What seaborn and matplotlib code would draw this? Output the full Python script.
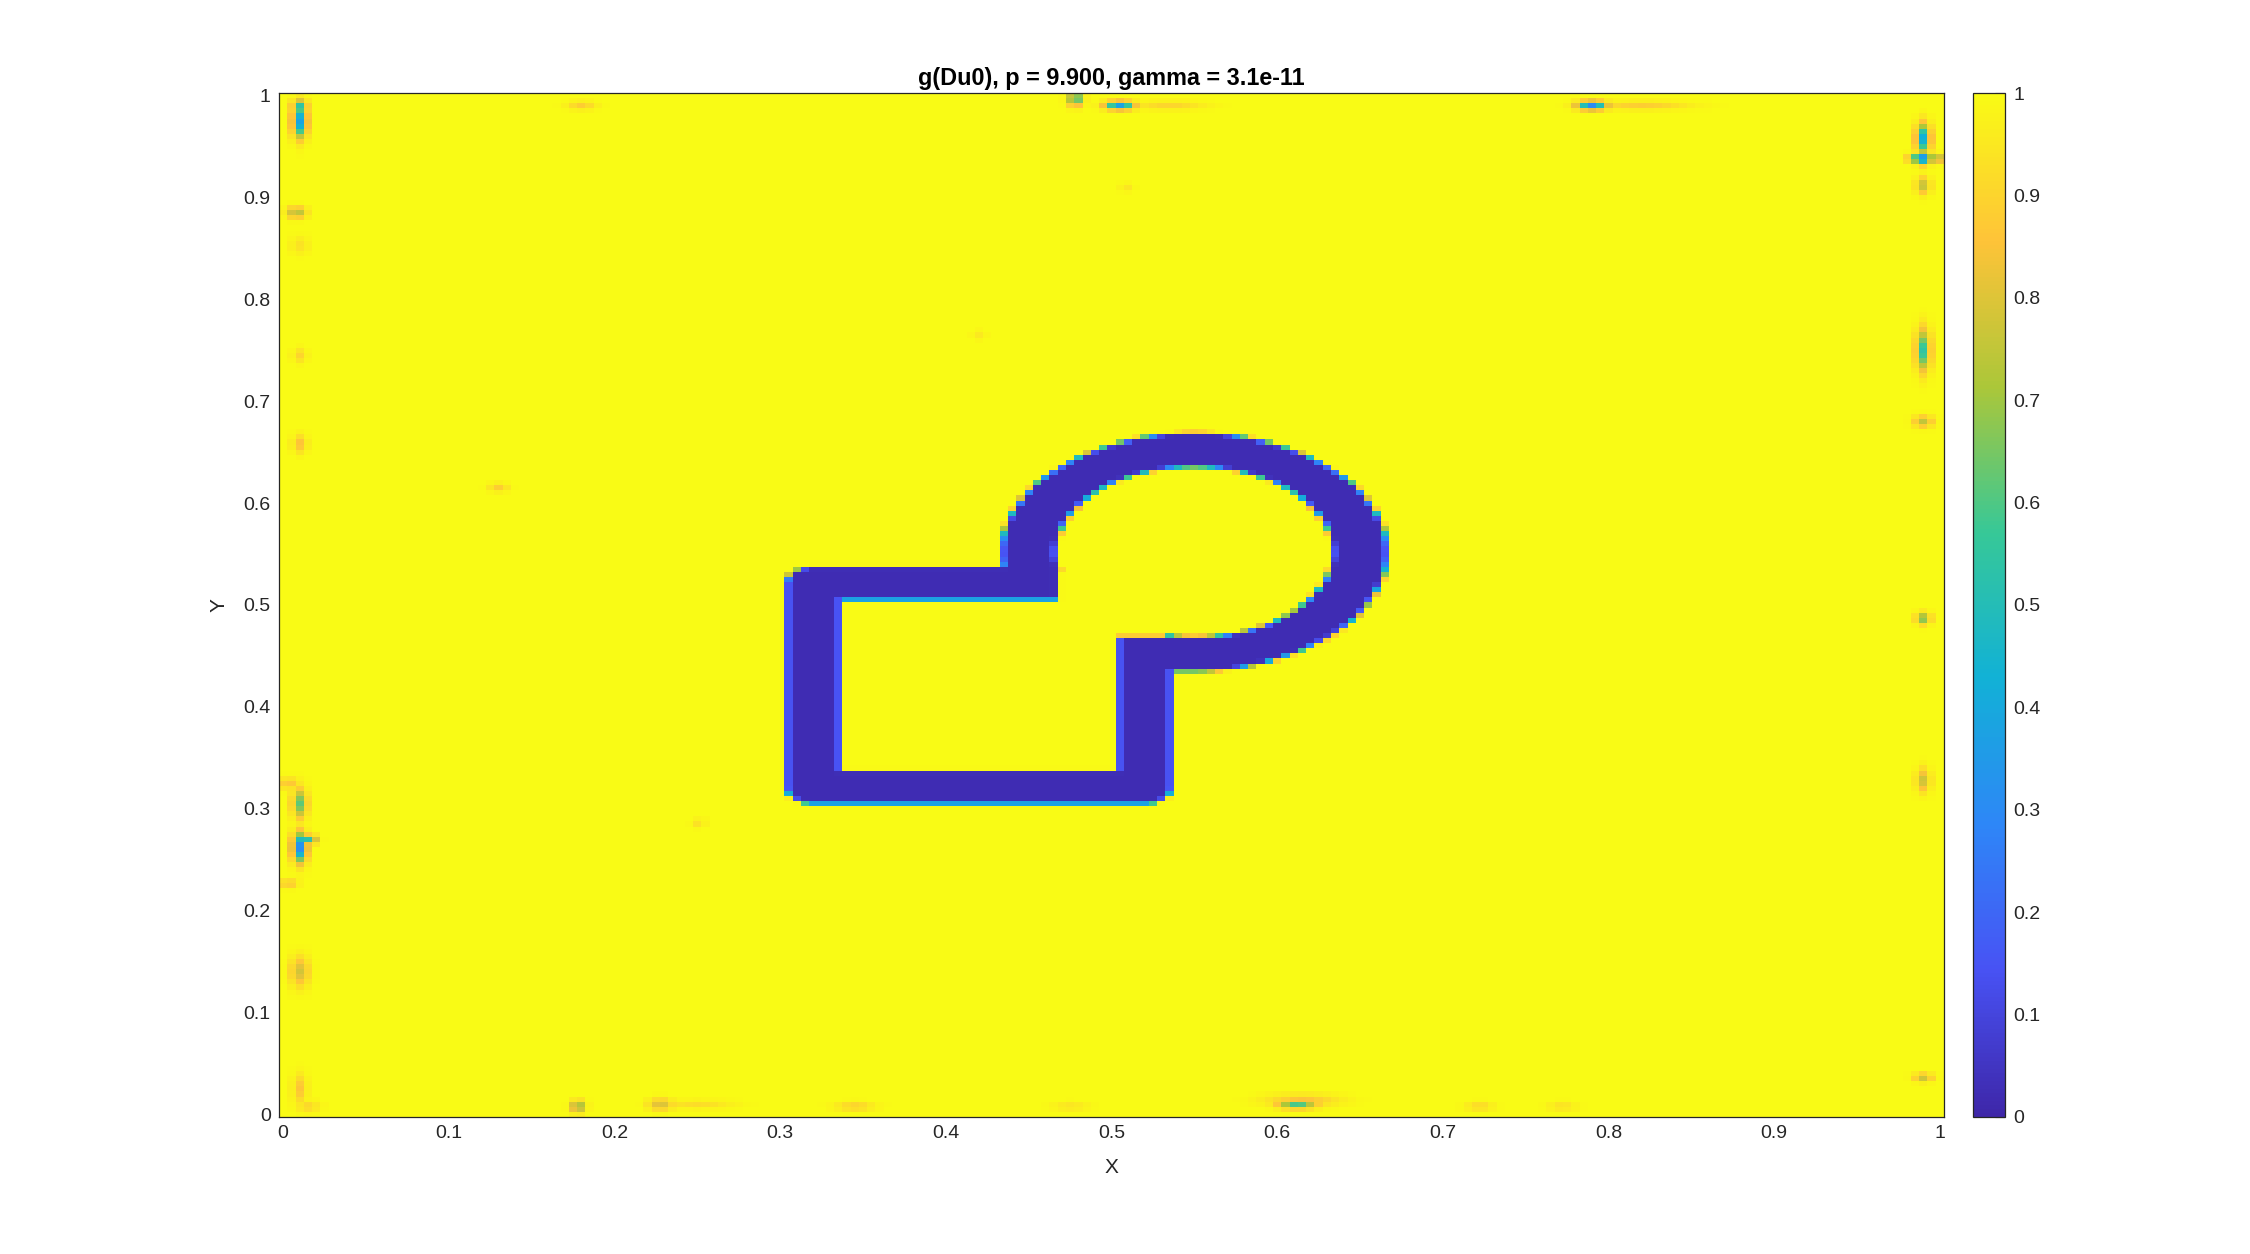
import numpy as np
import matplotlib
matplotlib.use("Agg")
import matplotlib.pyplot as plt
from matplotlib.colors import LinearSegmentedColormap
import seaborn as sns

# grid of the field (cell centres from 0 to 1)
n_pts = 201

# outline of the object whose edge shows up as the dark band:
# a rectangle, a square "neck" and a disc
rect_x = [0.320, 0.520]
rect_y = [0.321, 0.521]
neck_x = [0.451, 0.550]
neck_y = [0.452, 0.552]
circle_center = [0.550, 0.552]
circle_radius = 0.100
band_value = 0.02
band_inner = 0.0138
band_outer = 0.0192

# small spots near the border (x, y, value at centre, spread x, spread y)
spot_x = [0.010, 0.010, 0.008, 0.010, 0.010, 0.010, 0.003, 0.010, 0.010, 0.016, 0.003, 0.010, 0.010,
          0.990, 0.990, 0.985, 0.997, 0.990, 0.990, 0.990, 0.990, 0.990, 0.990,
          0.478, 0.505, 0.790, 0.820, 0.180, 0.535,
          0.178, 0.228, 0.250, 0.345, 0.475, 0.612, 0.615, 0.722, 0.772, 0.015,
          0.130, 0.509, 0.420, 0.251]
spot_y = [0.975, 0.990, 0.885, 0.853, 0.745, 0.658, 0.325, 0.305, 0.262, 0.270, 0.227, 0.140, 0.025,
          0.958, 0.938, 0.938, 0.938, 0.912, 0.750, 0.680, 0.487, 0.328, 0.036,
          0.997, 0.990, 0.990, 0.990, 0.990, 0.990,
          0.008, 0.010, 0.010, 0.008, 0.008, 0.010, 0.014, 0.008, 0.008, 0.008,
          0.615, 0.910, 0.765, 0.286]
spot_val = [0.38, 0.55, 0.72, 0.93, 0.90, 0.85, 0.86, 0.62, 0.30, 0.50, 0.85, 0.78, 0.86,
            0.42, 0.28, 0.50, 0.55, 0.75, 0.55, 0.75, 0.64, 0.77, 0.76,
            0.52, 0.38, 0.30, 0.88, 0.88, 0.90,
            0.62, 0.78, 0.92, 0.88, 0.93, 0.58, 0.85, 0.90, 0.92, 0.90,
            0.88, 0.94, 0.95, 0.93]
spot_sx = [0.003, 0.003, 0.004, 0.004, 0.003, 0.003, 0.005, 0.003, 0.003, 0.003, 0.004, 0.004, 0.003,
           0.003, 0.003, 0.003, 0.003, 0.003, 0.003, 0.004, 0.003, 0.003, 0.004,
           0.003, 0.006, 0.006, 0.020, 0.006, 0.015,
           0.003, 0.005, 0.015, 0.008, 0.008, 0.008, 0.015, 0.006, 0.006, 0.005,
           0.004, 0.003, 0.003, 0.003]
spot_sy = [0.011, 0.004, 0.004, 0.006, 0.005, 0.006, 0.004, 0.010, 0.010, 0.003, 0.003, 0.010, 0.010,
           0.010, 0.004, 0.003, 0.003, 0.006, 0.014, 0.004, 0.004, 0.008, 0.003,
           0.005, 0.003, 0.003, 0.003, 0.003, 0.003,
           0.004, 0.004, 0.003, 0.003, 0.003, 0.003, 0.004, 0.003, 0.003, 0.004,
           0.003, 0.003, 0.003, 0.003]

tick_vals = [0, 0.1, 0.2, 0.3, 0.4, 0.5, 0.6, 0.7, 0.8, 0.9, 1]
tick_labels = ["0", "0.1", "0.2", "0.3", "0.4", "0.5", "0.6", "0.7", "0.8", "0.9", "1"]

# parula-like colormap
parula_pos = [0, 1/7, 2/7, 3/7, 4/7, 5/7, 6/7, 1]
parula_rgb = [(0.2422, 0.1504, 0.6603), (0.2810, 0.3228, 0.9579), (0.1786, 0.5289, 0.9682),
              (0.0689, 0.6948, 0.8394), (0.2161, 0.7843, 0.5923), (0.6720, 0.7793, 0.2227),
              (0.9970, 0.7659, 0.2199), (0.9769, 0.9839, 0.0805)]
parula = LinearSegmentedColormap.from_list("parula", list(zip(parula_pos, parula_rgb)))


def box_sdf(X, Y, bx, by):
    qx = np.abs(X - (bx[0] + bx[1]) / 2) - (bx[1] - bx[0]) / 2
    qy = np.abs(Y - (by[0] + by[1]) / 2) - (by[1] - by[0]) / 2
    return np.hypot(np.maximum(qx, 0), np.maximum(qy, 0)) + np.minimum(np.maximum(qx, qy), 0)


# build the field
xs = np.linspace(0, 1, n_pts)
X, Y = np.meshgrid(xs, xs)
d_circ = np.hypot(X - circle_center[0], Y - circle_center[1]) - circle_radius
d = np.minimum(np.minimum(box_sdf(X, Y, rect_x, rect_y), box_sdf(X, Y, neck_x, neck_y)), d_circ)
t = np.clip((np.abs(d) - band_inner) / (band_outer - band_inner), 0, 1)
g = band_value + (1 - band_value) * t * t * (3 - 2 * t)
for x0, y0, v, sx, sy in zip(spot_x, spot_y, spot_val, spot_sx, spot_sy):
    bump = 1 - (1 - v) * np.exp(-0.5 * (((X - x0) / sx) ** 2 + ((Y - y0) / sy) ** 2))
    g = np.minimum(g, bump)

sns.set_style("white")
plt.rcParams["font.family"] = ["Liberation Sans", "DejaVu Sans"]
txt = "#262626"

fig = plt.figure(figsize=(22.5, 12.54), dpi=100)
ax = fig.add_axes([0.124, 0.1093, 0.740, 0.8165])
cax = fig.add_axes([0.8769, 0.1093, 0.0142, 0.8165])

sns.heatmap(g, ax=ax, cbar_ax=cax, cmap=parula, vmin=0, vmax=1,
            xticklabels=False, yticklabels=False, rasterized=True)
ax.set_ylim(0, n_pts)
ax.set_xlim(0, n_pts)

pos = [v * (n_pts - 1) + 0.5 for v in tick_vals]
ax.set_xticks(pos)
ax.set_xticklabels(tick_labels)
ax.set_yticks(pos)
ax.set_yticklabels(tick_labels)
ax.tick_params(direction="in", top=True, right=True, bottom=True, left=True,
               length=11.5, width=0.8, color=txt, labelcolor=txt, labelsize=14, pad=6)
for s in ax.spines.values():
    s.set_visible(True)
    s.set_color(txt)
    s.set_linewidth(0.9)

ax.set_xlabel("X", fontsize=15, color=txt, labelpad=11)
ax.set_ylabel("Y", fontsize=15, color=txt, labelpad=11)
ax.set_title("g(Du0), p = 9.900, gamma = 3.1e-11", fontsize=16.8, fontweight="bold",
             color="black", pad=6)

cb = ax.collections[0].colorbar
cb.set_ticks(tick_vals)
cb.set_ticklabels(tick_labels)
cb.outline.set_visible(True)
cb.outline.set_linewidth(0.9)
cb.outline.set_edgecolor(txt)
cax.tick_params(direction="in", length=7, width=0.8, color=txt, labelcolor=txt,
                labelsize=14, pad=6)

fig.savefig("out.png", dpi=100)
